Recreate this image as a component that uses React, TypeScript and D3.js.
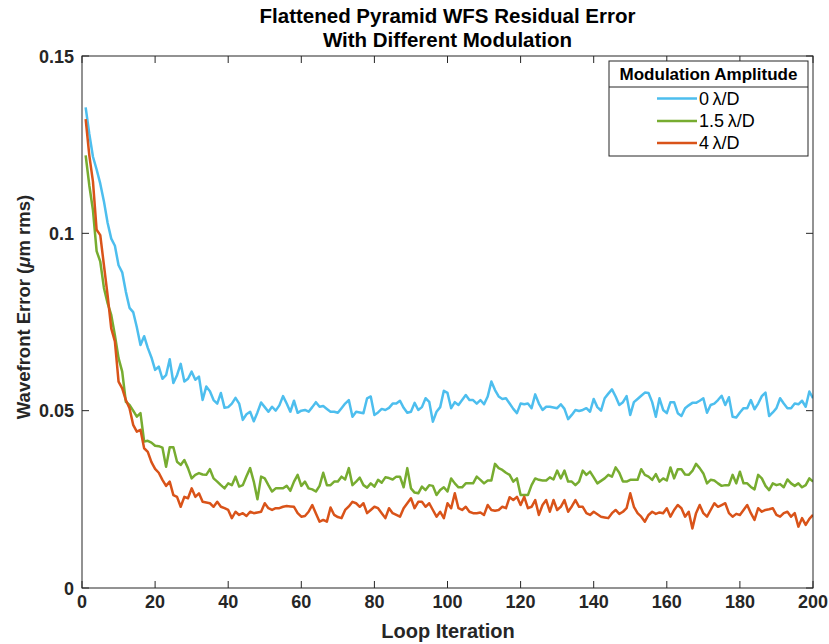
import React from "react";
import * as d3 from "d3";

const seriesNames = ["0\u2009\u03bb/D", "1.5\u2009\u03bb/D", "4\u2009\u03bb/D"];
const seriesColors = ["#4DBEEE", "#77AC30", "#D95319"];

const blue = [
  0.1355, 0.128, 0.1216, 0.118, 0.114, 0.109, 0.103, 0.0985, 0.0965, 0.091,
  0.089, 0.0835, 0.079, 0.0778, 0.0735, 0.0685, 0.071, 0.0677, 0.065, 0.0615,
  0.0624, 0.059, 0.06, 0.0645, 0.0578, 0.06, 0.0632, 0.0582, 0.059, 0.061,
  0.0587, 0.0596, 0.053, 0.0568, 0.0555, 0.053, 0.052, 0.055, 0.0508, 0.051,
  0.052, 0.0536, 0.052, 0.0474, 0.049, 0.0497, 0.047, 0.0495, 0.0523, 0.051,
  0.0497, 0.0511, 0.05, 0.0515, 0.0541, 0.052, 0.0497, 0.0528, 0.0494, 0.05,
  0.0502, 0.0497, 0.051, 0.0524, 0.0511, 0.0513, 0.0505, 0.0497, 0.0497, 0.0494,
  0.0507, 0.052, 0.053, 0.0483, 0.0497, 0.0495, 0.0493, 0.0535, 0.054, 0.0488,
  0.0495, 0.0505, 0.0502, 0.0508, 0.052, 0.052, 0.0528, 0.0508, 0.0494, 0.0497,
  0.0522, 0.0502, 0.051, 0.0535, 0.0525, 0.0469, 0.0497, 0.051, 0.0556, 0.055,
  0.0507, 0.0524, 0.0516, 0.053, 0.0544, 0.053, 0.053, 0.052, 0.053, 0.0518,
  0.054, 0.0582, 0.0558, 0.054, 0.0533, 0.0535, 0.052, 0.0505, 0.0493, 0.052,
  0.0518, 0.052, 0.0507, 0.0546, 0.052, 0.0502, 0.0511, 0.0511, 0.0509, 0.0507,
  0.0518, 0.0505, 0.0476, 0.0488, 0.0502, 0.0499, 0.0502, 0.0507, 0.0497, 0.0533,
  0.051, 0.05, 0.0535, 0.0548, 0.056, 0.054, 0.0516, 0.0524, 0.0541, 0.0488,
  0.0524, 0.0533, 0.0542, 0.0551, 0.055, 0.0524, 0.0483, 0.0535, 0.0502, 0.0493,
  0.0524, 0.0524, 0.0493, 0.0485, 0.0507, 0.0515, 0.0522, 0.0522, 0.0528, 0.0535,
  0.0494, 0.0516, 0.052, 0.053, 0.0542, 0.0516, 0.0538, 0.0483, 0.0481, 0.0495,
  0.0507, 0.0507, 0.053, 0.0504, 0.052, 0.0541, 0.0551, 0.0485, 0.0495, 0.0507,
  0.0535, 0.052, 0.0507, 0.0507, 0.052, 0.0518, 0.0528, 0.0511, 0.0554, 0.0535,
];

const green = [
  0.122, 0.1135, 0.1065, 0.095, 0.092, 0.0846, 0.0803, 0.077, 0.0713, 0.0648,
  0.061, 0.0525, 0.0516, 0.05, 0.0483, 0.0493, 0.0413, 0.0415, 0.041, 0.0401,
  0.04, 0.0396, 0.0342, 0.0397, 0.0397, 0.0356, 0.0347, 0.0361, 0.0338, 0.0309,
  0.0319, 0.0324, 0.032, 0.0319, 0.0335, 0.0309, 0.03, 0.029, 0.0281, 0.0295,
  0.029, 0.0314, 0.0286, 0.029, 0.0315, 0.0338, 0.03, 0.025, 0.0314, 0.0309,
  0.029, 0.0272, 0.0281, 0.0281, 0.0281, 0.0288, 0.0274, 0.03, 0.0319, 0.0288,
  0.03, 0.0281, 0.0278, 0.0272, 0.0288, 0.0325, 0.029, 0.029, 0.03, 0.03,
  0.0314, 0.0306, 0.0338, 0.029, 0.03, 0.0311, 0.029, 0.0283, 0.0295, 0.0286,
  0.0305, 0.0297, 0.0312, 0.031, 0.0306, 0.0314, 0.0314, 0.0284, 0.0338, 0.0281,
  0.0269, 0.0267, 0.0286, 0.0276, 0.029, 0.0288, 0.0262, 0.0276, 0.0284, 0.0272,
  0.0309, 0.0295, 0.0284, 0.0284, 0.0295, 0.0295, 0.0295, 0.0314, 0.0305, 0.0295,
  0.0303, 0.0303, 0.035, 0.0338, 0.0333, 0.0325, 0.0319, 0.03, 0.0309, 0.0262,
  0.0262, 0.0262, 0.029, 0.0309, 0.0305, 0.0303, 0.0303, 0.0312, 0.0306, 0.0331,
  0.0309, 0.0331, 0.03, 0.03, 0.029, 0.03, 0.0331, 0.0319, 0.0328, 0.0312,
  0.0295, 0.0302, 0.0309, 0.0319, 0.0314, 0.034, 0.0325, 0.03, 0.03, 0.0305,
  0.0305, 0.0305, 0.0335, 0.0319, 0.0314, 0.0305, 0.0321, 0.03, 0.0309, 0.0303,
  0.034, 0.0309, 0.0335, 0.0335, 0.032, 0.0319, 0.033, 0.035, 0.0338, 0.0323,
  0.0295, 0.0305, 0.0303, 0.0295, 0.0288, 0.029, 0.029, 0.0319, 0.0295, 0.0328,
  0.0295, 0.0295, 0.0285, 0.0278, 0.0319, 0.0309, 0.0288, 0.0276, 0.0295, 0.029,
  0.0293, 0.0284, 0.0306, 0.0295, 0.0288, 0.0295, 0.0284, 0.029, 0.0309, 0.03,
];

const red = [
  0.1322, 0.122, 0.1146, 0.101, 0.0995, 0.091, 0.0826, 0.0732, 0.0695, 0.0582,
  0.0563, 0.053, 0.0507, 0.046, 0.0441, 0.0446, 0.0394, 0.0384, 0.0355, 0.0336,
  0.0325, 0.0305, 0.0288, 0.03, 0.0262, 0.0257, 0.0229, 0.0257, 0.0253, 0.0281,
  0.0257, 0.0267, 0.0243, 0.0241, 0.0239, 0.0229, 0.0243, 0.0229, 0.0225, 0.022,
  0.0197, 0.0215, 0.0206, 0.0211, 0.0203, 0.0215, 0.0211, 0.0213, 0.0215, 0.0239,
  0.0225, 0.022, 0.0225, 0.0225, 0.0229, 0.0231, 0.023, 0.0229, 0.0211, 0.0201,
  0.0203, 0.0215, 0.0234, 0.021, 0.0187, 0.0192, 0.0187, 0.0227, 0.0206, 0.02,
  0.0197, 0.022, 0.023, 0.0243, 0.0239, 0.0229, 0.0239, 0.0211, 0.022, 0.0229,
  0.0225, 0.0211, 0.0197, 0.0225, 0.0211, 0.0206, 0.0201, 0.0225, 0.0239, 0.0253,
  0.0225, 0.0243, 0.0243, 0.0229, 0.0239, 0.022, 0.0201, 0.0215, 0.0197, 0.0239,
  0.0225, 0.0267, 0.0225, 0.022, 0.0229, 0.0215, 0.0211, 0.0211, 0.0213, 0.0206,
  0.0234, 0.022, 0.0218, 0.022, 0.0229, 0.0225, 0.0256, 0.0248, 0.0257, 0.0234,
  0.0257, 0.0225, 0.0229, 0.0248, 0.0206, 0.0234, 0.0248, 0.0215, 0.0248, 0.022,
  0.0229, 0.0248, 0.0215, 0.023, 0.0248, 0.0229, 0.0229, 0.0211, 0.0206, 0.0215,
  0.0208, 0.0201, 0.0199, 0.0197, 0.0211, 0.022, 0.0209, 0.0215, 0.0225, 0.0267,
  0.0229, 0.0211, 0.0201, 0.0187, 0.0206, 0.0215, 0.0209, 0.0213, 0.0211, 0.0225,
  0.0201, 0.022, 0.0234, 0.0225, 0.0201, 0.0215, 0.0168, 0.0211, 0.0234, 0.0211,
  0.0201, 0.022, 0.0239, 0.0229, 0.0234, 0.0239, 0.0211, 0.0201, 0.0209, 0.0206,
  0.022, 0.0234, 0.0211, 0.0192, 0.0225, 0.0215, 0.022, 0.0222, 0.0225, 0.0206,
  0.0201, 0.0211, 0.0215, 0.0201, 0.0211, 0.0173, 0.0197, 0.0178, 0.0195, 0.0206,
];

const xTicks = [0, 20, 40, 60, 80, 100, 120, 140, 160, 180, 200];
const yTicks = [0, 0.05, 0.1, 0.15];
const yTickLabels = ["0", "0.05", "0.1", "0.15"];
const titleLines = ["Flattened Pyramid WFS Residual Error", "With Different Modulation"];
const legendTitle = "Modulation Amplitude";
const xLabel = "Loop Iteration";

const W = 829;
const H = 644;
const M = { left: 82, right: 813, top: 56, bottom: 588 };
const FONT = "'Liberation Sans', Arial, Helvetica, sans-serif";
const AX = "#262626";

export default function App() {
  const x = d3.scaleLinear().domain([0, 200]).range([M.left, M.right]);
  const y = d3.scaleLinear().domain([0, 0.15]).range([M.bottom, M.top]);
  const all = [blue, green, red];
  const line = d3
    .line<number>()
    .x((_, i) => x(i + 1))
    .y((d) => y(d));
  const tickLen = 7;

  const lg = { x0: 609, x1: 808, y0: 61, yh: 87, y1: 156 };
  const rowY = [98.5, 121, 143];

  return (
    <svg
      width={W}
      height={H}
      style={{ position: "absolute", left: 0, top: 0, background: "#fff" }}
      fontFamily={FONT}
    >
      <rect x={0} y={0} width={W} height={H} fill="#fff" />
      <clipPath id="plotclip">
        <rect x={M.left} y={M.top} width={M.right - M.left} height={M.bottom - M.top} />
      </clipPath>
      <g clipPath="url(#plotclip)">
        {all.map((s, k) => (
          <path
            key={k}
            d={line(s) || ""}
            fill="none"
            stroke={seriesColors[k]}
            strokeWidth={2.5}
            strokeLinejoin="round"
          />
        ))}
      </g>
      <rect
        x={M.left}
        y={M.top}
        width={M.right - M.left}
        height={M.bottom - M.top}
        fill="none"
        stroke={AX}
        strokeWidth={1}
      />
      {xTicks.map((t) => (
        <g key={"xt" + t}>
          <line x1={x(t)} x2={x(t)} y1={M.bottom} y2={M.bottom - tickLen} stroke={AX} />
          <line x1={x(t)} x2={x(t)} y1={M.top} y2={M.top + tickLen} stroke={AX} />
          <text
            x={x(t)}
            y={608}
            textAnchor="middle"
            fontSize={18}
            fontWeight="bold"
            fill={AX}
          >
            {t}
          </text>
        </g>
      ))}
      {yTicks.map((t, i) => (
        <g key={"yt" + t}>
          <line x1={M.left} x2={M.left + tickLen} y1={y(t)} y2={y(t)} stroke={AX} />
          <line x1={M.right} x2={M.right - tickLen} y1={y(t)} y2={y(t)} stroke={AX} />
          <text
            x={M.left - 8}
            y={y(t) + 6.5}
            textAnchor="end"
            fontSize={18}
            fontWeight="bold"
            fill={AX}
          >
            {yTickLabels[i]}
          </text>
        </g>
      ))}
      {titleLines.map((t, i) => (
        <text
          key={t}
          x={(M.left + M.right) / 2}
          y={23 + i * 24}
          textAnchor="middle"
          fontSize={20.5}
          fontWeight="bold"
          fill="#000"
        >
          {t}
        </text>
      ))}
      <text
        x={448}
        y={638}
        textAnchor="middle"
        fontSize={20}
        fontWeight="bold"
        fill={AX}
      >
        {xLabel}
      </text>
      <text
        transform={`translate(30, 307) rotate(-90)`}
        textAnchor="middle"
        fontSize={18.5}
        fontWeight="bold"
        fill={AX}
      >
        Wavefront Error (<tspan fontStyle="italic">{"\u03bc"}</tspan>m rms)
      </text>
      <rect x={lg.x0} y={lg.y0} width={lg.x1 - lg.x0} height={lg.y1 - lg.y0} fill="#fff" stroke={AX} />
      <line x1={lg.x0} x2={lg.x1} y1={lg.yh} y2={lg.yh} stroke={AX} />
      <text
        x={(lg.x0 + lg.x1) / 2}
        y={80}
        textAnchor="middle"
        fontSize={17}
        fontWeight="bold"
        fill="#000"
      >
        {legendTitle}
      </text>
      {seriesNames.map((n, k) => (
        <g key={n}>
          <line x1={657} x2={697} y1={rowY[k]} y2={rowY[k]} stroke={seriesColors[k]} strokeWidth={2.5} />
          <text x={699} y={rowY[k] + 6} fontSize={18} fill="#000">
            {n}
          </text>
        </g>
      ))}
    </svg>
  );
}
